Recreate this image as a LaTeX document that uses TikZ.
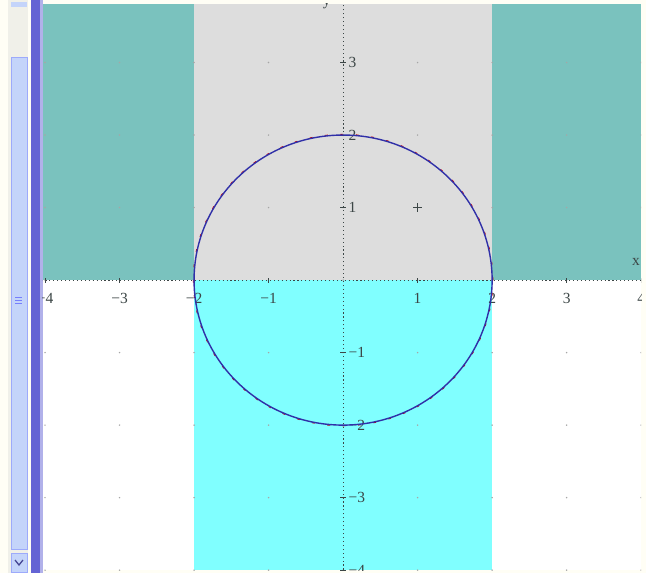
\documentclass[tikz,border=0pt]{standalone}
\usepackage{fontspec}
\setmainfont{Liberation Serif}
\definecolor{tealfill}{RGB}{122,194,190}
\definecolor{grayfill}{RGB}{221,221,221}
\definecolor{cyanfill}{RGB}{128,255,255}
\definecolor{barblue}{RGB}{100,100,212}
\definecolor{thumbblue}{RGB}{196,212,250}
\definecolor{trackgray}{RGB}{240,240,233}
\definecolor{curveblue}{RGB}{48,48,168}
\definecolor{labelgray}{RGB}{60,70,70}
\tikzset{
  axisline/.style={labelgray, dotted, line width=0.8pt},
  ticklab/.style={text=labelgray, inner sep=0pt, font=\fontsize{11}{12}\selectfont},
  griddot/.style={fill=gray!70, draw=none}
}
\begin{document}
\begin{tikzpicture}[x=0.025cm, y=-0.025cm]
            \useasboundingbox (0,0) rectangle (646,573);
            \fill[white!96!yellow] (0,0) rectangle (646,573);
            % Scroll bar on the left
            \fill[trackgray] (8,0) rectangle (28,573);
            \fill[thumbblue] (11,2) rectangle (27,7);
            \fill[thumbblue, draw=thumbblue!80!blue] (11,57) rectangle (27,549);
            \foreach \k in {297,300,303} {
                \draw[thumbblue!60!blue, line width=0.4pt] (15,\k) -- (22,\k);
            }
            \fill[thumbblue, draw=thumbblue!80!blue] (11,553) rectangle (27,572);
            \draw[barblue!70!black, line width=0.9pt] (15,560) -- (19,565) -- (23,560);
            \fill[barblue] (31,0) rectangle (40,573);
            \fill[barblue!50] (40,0) rectangle (43,573);
            % Plot area, origin at pixel (343,280)
            \begin{scope}[shift={(8.575cm,-7cm)}, x=1.8625cm, y=1.8125cm]
                \begin{scope}
                    \clip (-4.027,-4) rectangle (4,3.807);
                    \fill[white] (-4.027,-4) rectangle (4,3.807);
                    \fill[tealfill] (-4.027,0) rectangle (-2,3.807);
                    \fill[tealfill] (2,0) rectangle (4,3.807);
                    \fill[grayfill] (-2,0) rectangle (2,3.807);
                    \fill[cyanfill] (-2,-4) rectangle (2,0);
                    % Grid points
                    \foreach \i in {-4,...,4} {
                        \foreach \j in {-4,...,3} {
                            \fill[griddot] (\i,\j) circle (0.6pt);
                        }
                    }
                    % Axes
                    \draw[axisline] (-4.1,0) -- (4.1,0);
                    \draw[axisline] (0,-4.1) -- (0,3.9);
                    \foreach \i in {-4,...,-1,1,2,3,4} {
                        \draw[labelgray, line width=0.6pt] (\i,-0.035) -- (\i,0.035);
                        \node[ticklab] (xl\i) at (\i,-0.25) {\ifnum\i<0 −\the\numexpr-\i\relax\else\i\fi};
                    }
                    \foreach \j in {-4,...,-1,1,2,3} {
                        \draw[labelgray, line width=0.6pt] (-0.035,\j) -- (0.035,\j);
                        \node[ticklab, anchor=west] (yl\j) at (0.07,\j) {\ifnum\j<0 −\the\numexpr-\j\relax\else\j\fi};
                    }
                    \node[ticklab] (xname) at (3.93,0.25) {x};
                    \node[ticklab] (yname) at (-0.22,3.81) {y};
                    % Circle x^2+y^2=4 and the point (1,1)
                    \draw[red!80!black, line width=0.6pt, dash pattern=on 2pt off 9pt] (0,0) circle (2.01);
                    \draw[curveblue, line width=1pt] (0,0) circle (2);
                    \coordinate (p) at (1,1);
                    \draw[labelgray, line width=0.6pt] ([xshift=-3pt]p) -- ([xshift=3pt]p);
                    \draw[labelgray, line width=0.6pt] ([yshift=-3pt]p) -- ([yshift=3pt]p);
                \end{scope}
            \end{scope}
\end{tikzpicture}
\end{document}
